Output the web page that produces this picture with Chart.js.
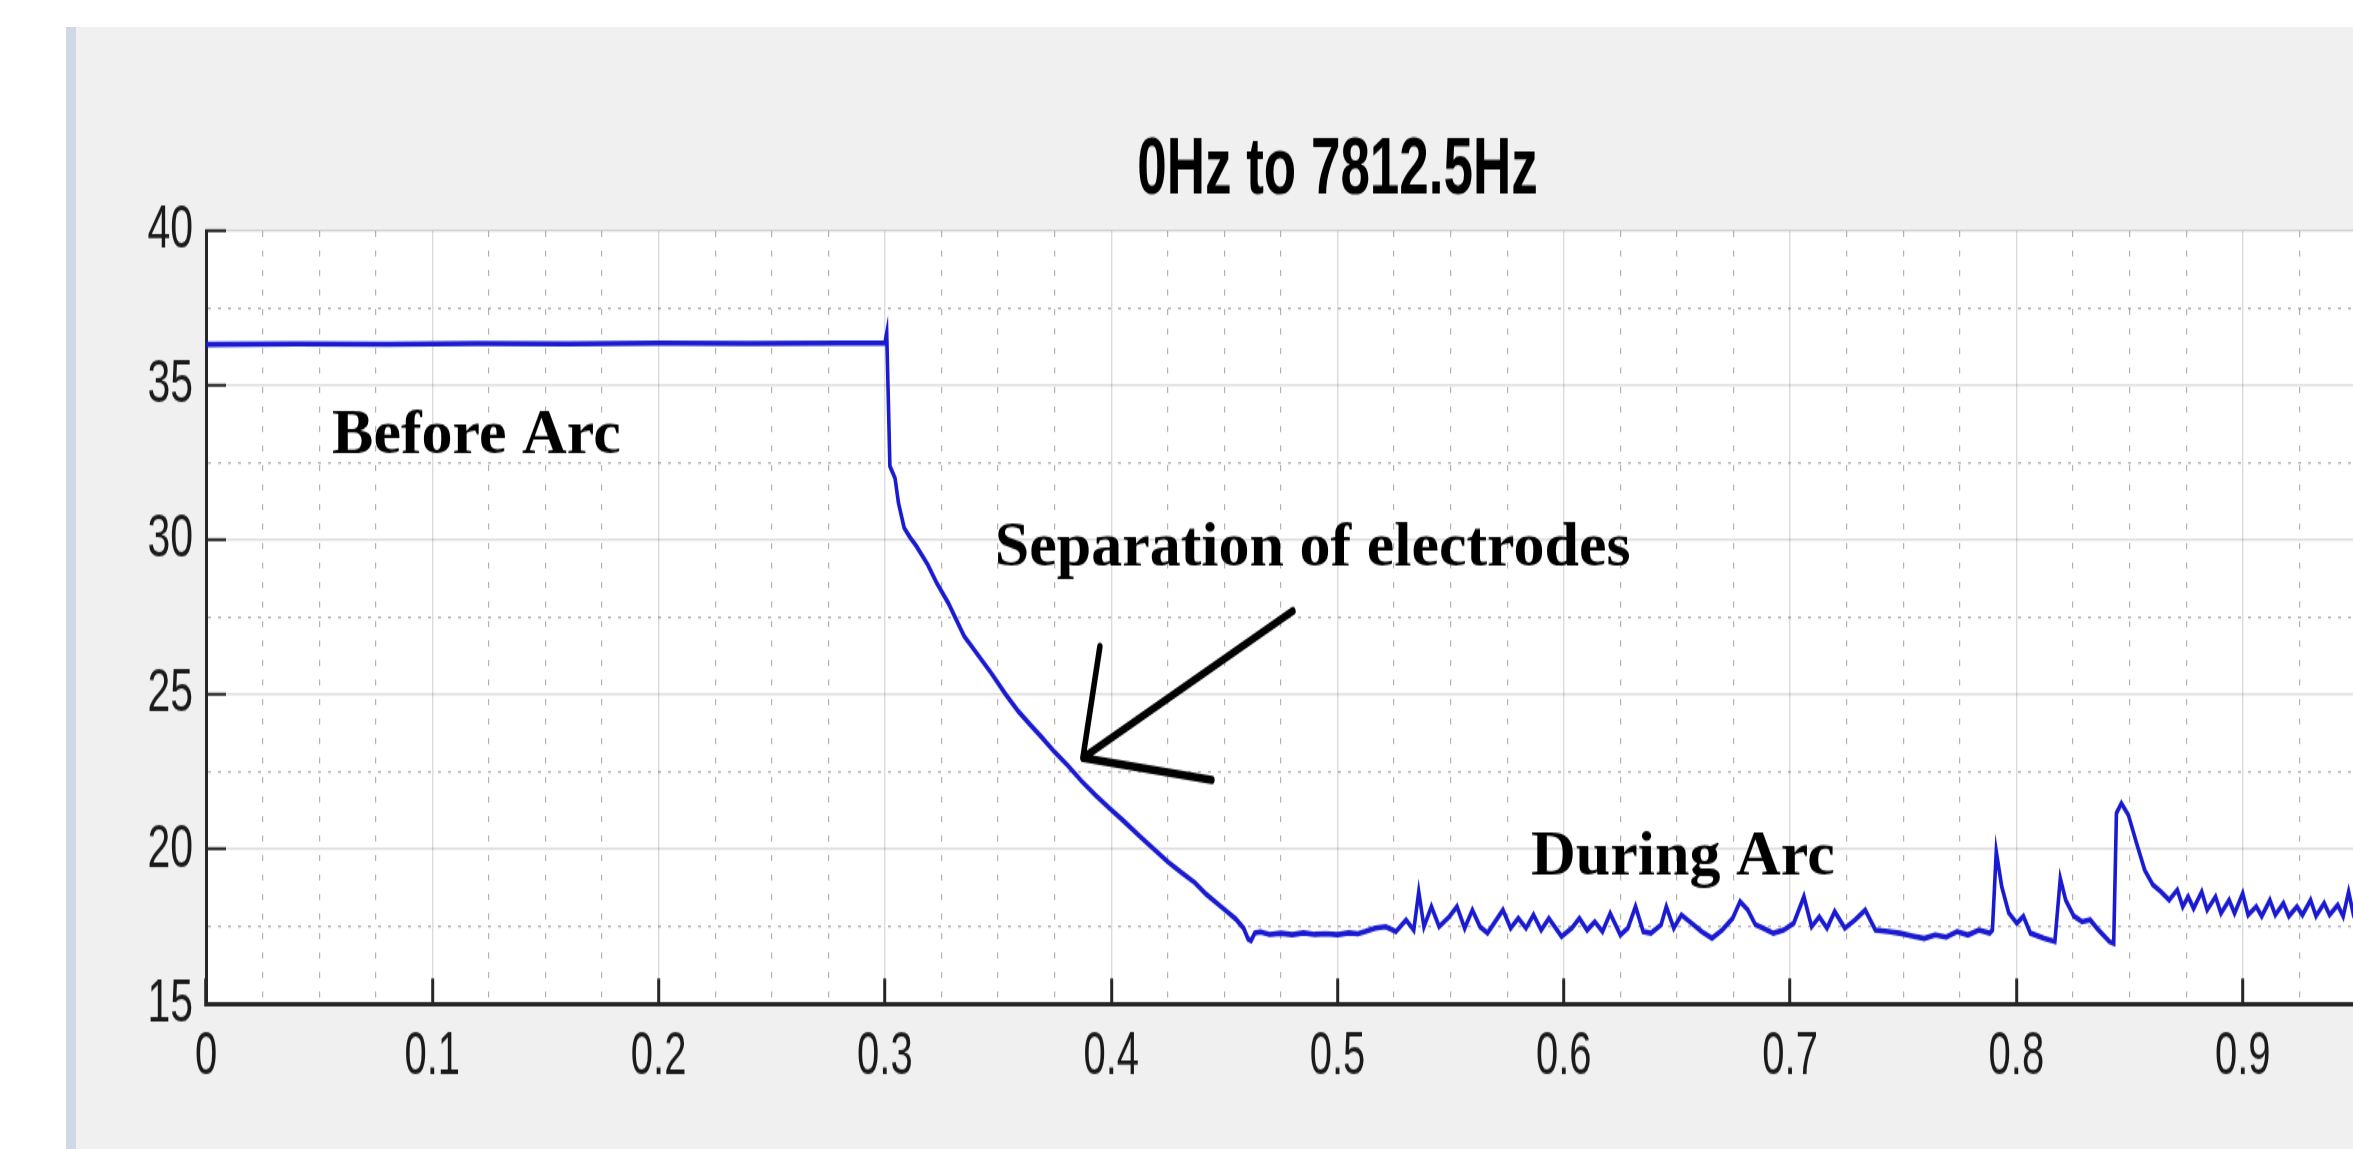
<!DOCTYPE html>
<html>
<head>
<meta charset="utf-8">
<script src="https://cdn.jsdelivr.net/npm/chart.js@4.4.1/dist/chart.umd.min.js"></script>
<style>
html, body { margin: 0; padding: 0; background: #ffffff; overflow: hidden; }
#page { position: relative; width: 2353px; height: 1149px; overflow: hidden; background: #ffffff; }
#panel { position: absolute; left: 76px; top: 27px; right: 0; bottom: 0; background: #f0f0f0; }
#stripe { position: absolute; left: 66px; top: 27px; width: 10px; bottom: 0; background: #cfd9e5; }
#wrap { position: absolute; left: 0; top: 0; width: 2675px; height: 766px; transform: scaleY(1.5); transform-origin: 0 0; }
</style>
</head>
<body>
<div id="page">
  <div id="panel"></div>
  <div id="stripe"></div>
  <div id="wrap"><canvas id="c" width="2675" height="766"></canvas></div>
</div>
<script>
// ---- data ----
const timeValues = [
  0, 0.04, 0.08, 0.12, 0.16, 0.2, 0.24, 0.28, 0.3,
  0.3008, 0.3015, 0.3022, 0.3045, 0.306, 0.3085, 0.311, 0.314, 0.319, 0.323, 0.328, 0.335,
  0.339, 0.343, 0.347, 0.353, 0.359, 0.364, 0.369, 0.375, 0.381, 0.387, 0.393, 0.399,
  0.405, 0.413, 0.419, 0.425, 0.431, 0.437, 0.442, 0.447, 0.451, 0.455, 0.4585, 0.4605,
  0.4618, 0.4635, 0.466, 0.47, 0.475, 0.48, 0.485, 0.49, 0.495, 0.5, 0.505, 0.509,
  0.5122, 0.5167, 0.5213, 0.5258, 0.5303, 0.5337, 0.5359, 0.5382, 0.5415, 0.5449, 0.5494, 0.5528,
  0.5562, 0.5596, 0.563, 0.5663, 0.5731, 0.5765, 0.5799, 0.5833, 0.5866, 0.59, 0.5934, 0.599,
  0.6035, 0.6069, 0.6103, 0.6137, 0.6171, 0.6205, 0.625, 0.6283, 0.6317, 0.6351, 0.6385, 0.643,
  0.6453, 0.6486, 0.652, 0.6565, 0.661, 0.6655, 0.67, 0.6746, 0.6779, 0.6813, 0.6847, 0.6881,
  0.6926, 0.6971, 0.7016, 0.7061, 0.7095, 0.7129, 0.7163, 0.7197, 0.7242, 0.7287, 0.7332, 0.7377,
  0.7433, 0.7485, 0.754, 0.7593, 0.7641, 0.769, 0.7738, 0.7786, 0.7834, 0.7882, 0.7894, 0.7911,
  0.7935, 0.7966, 0.8002, 0.8031, 0.8062, 0.8122, 0.817, 0.8194, 0.8218, 0.8254, 0.829, 0.8326,
  0.8363, 0.8411, 0.843, 0.8442, 0.8464, 0.8495, 0.8531, 0.8567, 0.8603, 0.8639, 0.8675, 0.8711,
  0.8735, 0.8759, 0.8783, 0.8819, 0.8843, 0.888, 0.8904, 0.894, 0.8964, 0.9, 0.9024, 0.906,
  0.9084, 0.912, 0.9144, 0.918, 0.9204, 0.924, 0.9264, 0.93, 0.9324, 0.936, 0.9384, 0.942,
  0.9444, 0.9468, 0.9488, 0.952, 0.956, 0.96, 0.965, 0.97, 0.975, 0.98, 0.985, 0.99,
  0.995, 1.0
];
const magnitudeValues = [
  36.33, 36.35, 36.34, 36.36, 36.35, 36.37, 36.36, 36.37, 36.38,
  36.7, 34.6, 32.4, 32.0, 31.2, 30.4, 30.1, 29.8, 29.2, 28.6, 27.97, 26.9,
  26.5, 26.1, 25.7, 25.05, 24.46, 24.05, 23.65, 23.15, 22.7, 22.2, 21.76, 21.35,
  20.95, 20.4, 20.0, 19.6, 19.25, 18.92, 18.55, 18.24, 18.0, 17.75, 17.45, 17.1,
  17.05, 17.3, 17.33, 17.25, 17.29, 17.24, 17.3, 17.25, 17.27, 17.24, 17.3, 17.27,
  17.34, 17.45, 17.5, 17.34, 17.72, 17.39, 18.63, 17.5, 18.15, 17.5, 17.82, 18.15,
  17.45, 18.04, 17.5, 17.29, 18.04, 17.45, 17.77, 17.45, 17.88, 17.39, 17.77, 17.18,
  17.45, 17.77, 17.39, 17.66, 17.34, 17.93, 17.23, 17.45, 18.15, 17.34, 17.29, 17.56,
  18.15, 17.45, 17.88, 17.61, 17.34, 17.13, 17.39, 17.77, 18.31, 18.04, 17.56, 17.45,
  17.29, 17.39, 17.61, 18.47, 17.5, 17.82, 17.45, 17.99, 17.45, 17.72, 18.04, 17.39,
  17.34, 17.29, 17.2, 17.12, 17.23, 17.16, 17.34, 17.23, 17.39, 17.29, 17.39, 19.93,
  18.8, 17.95, 17.61, 17.84, 17.29, 17.12, 17.02, 19.06, 18.36, 17.84, 17.66, 17.72,
  17.39, 17.02, 16.96, 21.17, 21.49, 21.11, 20.2, 19.33, 18.85, 18.63, 18.36, 18.69,
  18.15, 18.47, 18.09, 18.63, 18.04, 18.47, 17.93, 18.36, 17.93, 18.58, 17.88, 18.15,
  17.84, 18.36, 17.88, 18.26, 17.84, 18.15, 17.88, 18.36, 17.84, 18.26, 17.88, 18.2,
  17.84, 18.63, 17.93, 18.3, 17.9, 18.4, 17.9, 18.3, 17.85, 18.35, 17.9, 18.3,
  17.9, 18.1
];
const xMajorTicks = [0, 0.1, 0.2, 0.3, 0.4, 0.5, 0.6, 0.7, 0.8, 0.9, 1];
const yMajorTicks = [15, 20, 25, 30, 35, 40];
const chartTitle = '0Hz to 7812.5Hz';
const annotationTexts = ['Before Arc', 'Separation of electrodes', 'During Arc'];

// ---- rendering ----
const STRETCH = 1.5; // the whole canvas is stretched vertically by CSS
const isMajor = (list, v) => list.some(m => Math.abs(m - v) < 1e-7);
const fmt = v => String(Math.round(v * 100) / 100);

const plotBackground = {
  id: 'plotBackground',
  beforeDraw(chart) {
    const { ctx, chartArea: a } = chart;
    ctx.save();
    ctx.fillStyle = '#ffffff';
    ctx.fillRect(a.left, a.top, a.right - a.left, a.bottom - a.top);
    ctx.restore();
  }
};

const annotationLayer = {
  id: 'annotationLayer',
  afterDatasetsDraw(chart) {
    const { ctx, scales: { x, y } } = chart;
    const anchors = [[0.0557, 32.82], [0.3485, 29.2], [0.5855, 19.17]];
    ctx.save();
    ctx.fillStyle = '#000000';
    ctx.font = 'bold 62px "Liberation Serif"';
    ctx.textBaseline = 'alphabetic';
    ctx.textAlign = 'left';
    annotationTexts.forEach((t, i) => {
      ctx.save();
      ctx.translate(x.getPixelForValue(anchors[i][0]), y.getPixelForValue(anchors[i][1]));
      ctx.scale(1, 1 / STRETCH);
      ctx.fillText(t, 0, 0);
      ctx.restore();
    });
    const P = v => [x.getPixelForValue(v[0]), y.getPixelForValue(v[1])];
    const tip = P([0.3875, 22.96]);
    const tail = P([0.4803, 27.71]);
    const barbA = P([0.395, 26.55]);
    const barbB = P([0.4445, 22.24]);
    ctx.strokeStyle = '#000000';
    ctx.lineWidth = 5.5;
    ctx.lineCap = 'round';
    ctx.lineJoin = 'round';
    ctx.beginPath();
    ctx.moveTo(tail[0], tail[1]); ctx.lineTo(tip[0], tip[1]);
    ctx.moveTo(barbA[0], barbA[1]); ctx.lineTo(tip[0], tip[1]); ctx.lineTo(barbB[0], barbB[1]);
    ctx.stroke();
    ctx.restore();
  }
};

Chart.defaults.font.family = '"Liberation Sans", Arial, sans-serif';

new Chart(document.getElementById('c'), {
  type: 'line',
  data: {
    datasets: [{
      data: timeValues.map((t, i) => ({ x: t, y: magnitudeValues[i] })),
      borderColor: '#1a1ad0',
      borderWidth: 3.6,
      pointRadius: 0,
      tension: 0,
      fill: false
    }]
  },
  options: {
    responsive: false,
    maintainAspectRatio: false,
    animation: false,
    devicePixelRatio: 1,
    layout: { padding: { left: 0, right: 0, top: 0, bottom: 0 } },
    plugins: {
      legend: { display: false },
      tooltip: { enabled: false },
      title: {
        display: true,
        text: chartTitle,
        color: '#000000',
        font: { size: 53, weight: 'bold' },
        padding: { top: 83, bottom: 7.4 }
      }
    },
    scales: {
      x: {
        type: 'linear',
        min: 0,
        max: 1,
        afterFit: s => { s.height = 96.7; },
        ticks: {
          stepSize: 0.025,
          autoSkip: false,
          maxRotation: 0,
          minRotation: 0,
          padding: 29,
          color: '#1a1a1a',
          font: { size: 40 },
          callback: v => isMajor(xMajorTicks, v) ? fmt(v) : ''
        },
        grid: {
          color: c => c.tick && isMajor(xMajorTicks, c.tick.value) ? 'rgba(0,0,0,0.14)' : 'rgba(0,0,0,0.3)',
          lineWidth: c => c.tick && isMajor(xMajorTicks, c.tick.value) ? 1.4 : 1.2,
          drawTicks: true,
          tickLength: -17,
          tickWidth: 3,
          tickColor: c => c.tick && isMajor(xMajorTicks, c.tick.value) ? '#262626' : 'rgba(0,0,0,0)'
        },
        border: {
          display: true,
          color: '#262626',
          width: 3,
          dash: c => c.tick && !isMajor(xMajorTicks, c.tick.value) ? [4, 9] : []
        }
      },
      y: {
        type: 'linear',
        position: 'left',
        min: 15,
        max: 40,
        afterFit: s => { s.width = 206; },
        ticks: {
          stepSize: 2.5,
          autoSkip: false,
          padding: 33,
          color: '#1a1a1a',
          font: { size: 41 },
          callback: v => isMajor(yMajorTicks, v) ? fmt(v) : ''
        },
        grid: {
          color: c => c.tick && isMajor(yMajorTicks, c.tick.value) ? 'rgba(0,0,0,0.13)' : 'rgba(0,0,0,0.3)',
          lineWidth: c => c.tick && isMajor(yMajorTicks, c.tick.value) ? 1.6 : 1.2,
          drawTicks: true,
          tickLength: -20,
          tickWidth: 2,
          tickColor: c => c.tick && isMajor(yMajorTicks, c.tick.value) ? '#262626' : 'rgba(0,0,0,0)'
        },
        border: {
          display: true,
          color: '#262626',
          width: 3,
          dash: c => c.tick && !isMajor(yMajorTicks, c.tick.value) ? [3, 7] : []
        }
      },
      yRight: {
        type: 'linear',
        position: 'right',
        display: true,
        afterFit: s => { s.width = 206; },
        ticks: { display: false },
        grid: { display: false, drawOnChartArea: false, drawTicks: false },
        border: { display: false }
      }
    }
  },
  plugins: [plotBackground, annotationLayer]
});
</script>
</body>
</html>
